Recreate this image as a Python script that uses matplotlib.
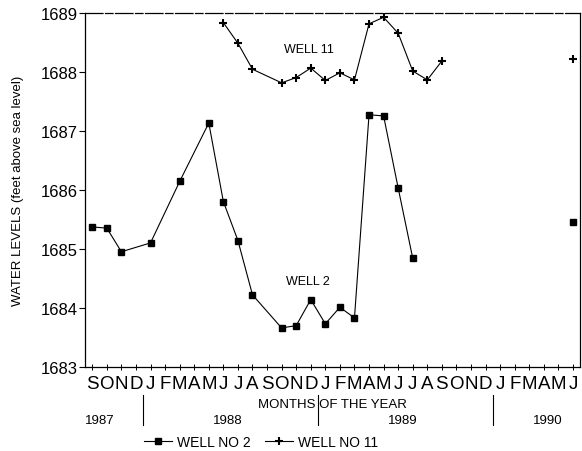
import matplotlib.pyplot as plt
import numpy as np

plt.rcParams['font.family'] = ['Liberation Sans', 'DejaVu Sans']

# month letters, Sep 1987 .. Jun 1990
month_labels = list("SOND") + list("JFMAMJJASOND") * 2 + list("JFMAMJ")
year_labels = ["1987", "1988", "1989", "1990"]
year_centers = [0.5, 9.3, 21.3, 31.3]
year_breaks = [3.5, 15.5, 27.5]

# observations: month index (0 = Sep 1987) and water level in feet
well2_months = [0, 1, 2, 4, 6, 8, 9, 10, 11, 13, 14, 15, 16, 17, 18, 19, 20, 21, 22, 33]
well2_levels = [1685.37, 1685.35, 1684.95, 1685.10, 1686.14, 1687.13, 1685.80, 1685.14,
                1684.22, 1683.66, 1683.70, 1684.14, 1683.73, 1684.01, 1683.83, 1687.27,
                1687.25, 1686.03, 1684.84, 1685.46]

well11_months = [9, 10, 11, 13, 14, 15, 16, 17, 18, 19, 20, 21, 22, 23, 24, 33]
well11_levels = [1688.83, 1688.48, 1688.04, 1687.81, 1687.90, 1688.06, 1687.85, 1687.98,
                 1687.86, 1688.81, 1688.92, 1688.65, 1688.01, 1687.86, 1688.18, 1688.22]


def plot_series(ax, months, levels, **kw):
    # split where there is a long gap in the record
    months = np.asarray(months)
    levels = np.asarray(levels)
    cut = np.where(np.diff(months) > 3)[0] + 1
    label = kw.pop('label', None)
    for i, (m, v) in enumerate(zip(np.split(months, cut), np.split(levels, cut))):
        ax.plot(m, v, label=label if i == 0 else None, **kw)


fig = plt.figure(figsize=(5.82, 4.52), dpi=100)
ax = fig.add_axes([0.146, 0.186, 0.851, 0.784])

plot_series(ax, well2_months, well2_levels, color='black', lw=0.8,
            marker='s', ms=4.8, label='WELL NO 2')
plot_series(ax, well11_months, well11_levels, color='black', lw=0.8,
            marker='+', ms=5.5, mew=1.5, label='WELL NO 11')

ax.set_xlim(-0.5, 33.5)
ax.set_ylim(1683, 1689)
ax.set_yticks(np.arange(1683, 1690))
ax.set_yticklabels([str(v) for v in range(1683, 1690)], fontsize=12)
ax.set_xticks(np.arange(len(month_labels)))
ax.set_xticklabels(month_labels, fontsize=13.5)
ax.tick_params(axis='y', direction='out', length=4, width=0.8, pad=1)
ax.tick_params(axis='x', direction='inout', length=5, width=0.7, pad=3)
for s in ax.spines.values():
    s.set_linewidth(0.9)
ax.spines['top'].set_linestyle((0, (14, 2, 6, 2)))

ax.set_ylabel("WATER LEVELS (feet above sea level)", fontsize=9.5, labelpad=12)

ax.text(14.9, 1688.38, "WELL 11", fontsize=9, ha='center', va='center')
ax.text(14.8, 1684.46, "WELL 2", fontsize=9, ha='center', va='center')

ax.text(16.5, -0.105, "MONTHS OF THE YEAR", transform=ax.get_xaxis_transform(),
        fontsize=9.5, ha='center', va='center')
for x, yr in zip(year_centers, year_labels):
    ax.text(x, -0.15, yr, transform=ax.get_xaxis_transform(), fontsize=9.5,
            ha='center', va='center')
for x in year_breaks:
    ax.plot([x, x], [-0.08, -0.165], transform=ax.get_xaxis_transform(),
            color='black', lw=0.8, clip_on=False)

fig.legend(loc='center', bbox_to_anchor=(0.449, 0.02), ncol=2, frameon=False,
           fontsize=10, handlelength=2.0, columnspacing=1.0, handletextpad=0.4)

fig.savefig("out.png", dpi=100)
